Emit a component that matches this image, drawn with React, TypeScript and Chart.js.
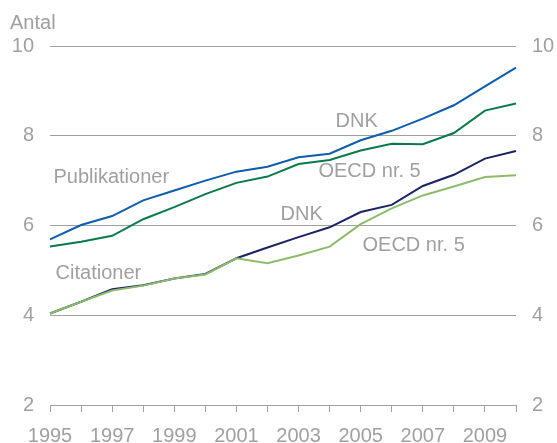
import React, { useEffect, useRef } from "react";
import { Chart, registerables } from "chart.js";

Chart.register(...registerables);

const years = ["1995","1996","1997","1998","1999","2000","2001","2002","2003","2004","2005","2006","2007","2008","2009","2010"];
const pubDNK = [5.69, 6.01, 6.21, 6.56, 6.78, 7.0, 7.2, 7.31, 7.52, 7.6, 7.9, 8.11, 8.38, 8.68, 9.1, 9.52];
const pubOECD = [5.53, 5.64, 5.77, 6.14, 6.41, 6.7, 6.95, 7.09, 7.37, 7.46, 7.67, 7.82, 7.81, 8.06, 8.56, 8.72];
const citDNK = [4.04, 4.3, 4.58, 4.67, 4.82, 4.92, 5.27, 5.51, 5.74, 5.96, 6.3, 6.46, 6.88, 7.13, 7.49, 7.66];
const citOECD = [4.04, 4.3, 4.55, 4.66, 4.82, 4.91, 5.27, 5.16, 5.33, 5.53, 6.03, 6.38, 6.67, 6.87, 7.08, 7.12];
const yTicks = [2, 4, 6, 8, 10];

// Text labels placed in data coordinates (year index, value)
const labelTexts = ["Publikationer", "Citationer", "DNK", "OECD nr. 5", "DNK", "OECD nr. 5"];
const labelX = [0.11, 0.18, 9.19, 8.64, 7.42, 10.06];
const labelY = [7.06, 4.94, 8.31, 7.195, 6.24, 5.55];

const GRAY = "#a0a0a0";
const FONT = "'Liberation Sans', Arial, sans-serif";

export default function App() {
  const ref = useRef<HTMLCanvasElement | null>(null);
  useEffect(() => {
    if (!ref.current) return;
    const textPlugin = {
      id: "texts",
      afterDatasetsDraw(chart: any) {
        const ctx = chart.ctx;
        const xs = chart.scales.x;
        const ys = chart.scales.y;
        ctx.save();
        ctx.fillStyle = GRAY;
        ctx.font = `20px ${FONT}`;
        ctx.textAlign = "left";
        ctx.textBaseline = "middle";
        for (let i = 0; i < labelTexts.length; i++) {
          ctx.fillText(labelTexts[i], xs.getPixelForValue(labelX[i]), ys.getPixelForValue(labelY[i]));
        }
        ctx.fillText("Antal", 10, 23);
        ctx.restore();
      },
    };
    const mk = (data: number[], color: string) => ({
      data,
      borderColor: color,
      backgroundColor: color,
      borderWidth: 2,
      pointRadius: 0,
      tension: 0,
      fill: false,
    });
    const chart = new Chart(ref.current, {
      type: "line",
      data: {
        labels: years,
        datasets: [
          mk(pubDNK, "#0c5cb0"),
          mk(pubOECD, "#0a7a48"),
          mk(citOECD, "#8cbb6c"),
          mk(citDNK, "#1c2263"),
        ],
      },
      options: {
        responsive: false,
        animation: false,
        layout: { padding: { top: 46, left: 0, right: 0, bottom: 0 } },
        plugins: { legend: { display: false }, tooltip: { enabled: false } },
        scales: {
          x: {
            type: "category",
            offset: false,
            grid: { drawOnChartArea: false, drawTicks: true, tickLength: 7, color: GRAY },
            border: { display: true, color: GRAY },
            ticks: {
              autoSkip: false,
              maxRotation: 0,
              color: GRAY,
              font: { family: FONT, size: 20 },
              padding: 12,
              callback: (_v: any, i: number) => (i % 2 === 0 && i < 15 ? years[i] : ""),
            },
            afterFit: (s: any) => { s.height = 38; },
          },
          y: {
            position: "left",
            min: 2,
            max: 10,
            afterBuildTicks: (s: any) => { s.ticks = yTicks.map((v) => ({ value: v })); },
            grid: { color: GRAY, drawTicks: false },
            border: { display: false },
            ticks: { color: GRAY, font: { family: FONT, size: 20 }, padding: 16 },
            afterFit: (s: any) => { s.width = 50; },
          },
          y2: {
            position: "right",
            min: 2,
            max: 10,
            afterBuildTicks: (s: any) => { s.ticks = yTicks.map((v) => ({ value: v })); },
            grid: { drawOnChartArea: false, drawTicks: false },
            border: { display: false },
            ticks: { color: GRAY, font: { family: FONT, size: 20 }, padding: 16 },
            afterFit: (s: any) => { s.width = 41; },
          },
        },
      },
      plugins: [textPlugin],
    });
    return () => chart.destroy();
  }, []);
  return (
    <div style={{ position: "absolute", left: 0, top: 0, width: 557, height: 443, background: "#fff" }}>
      <canvas ref={ref} width={557} height={443} />
    </div>
  );
}
